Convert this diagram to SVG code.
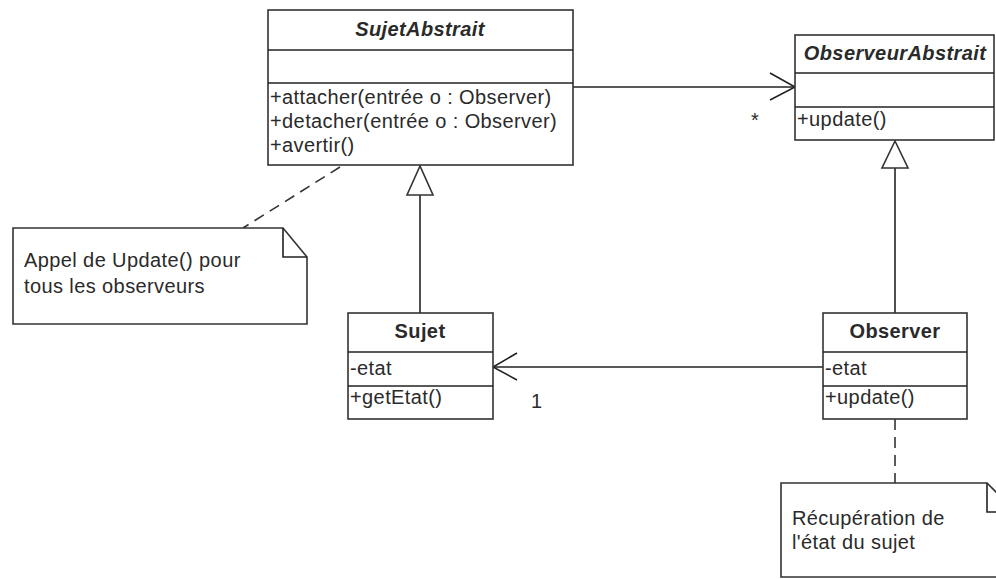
<svg xmlns="http://www.w3.org/2000/svg" width="996" height="579" viewBox="0 0 996 579">
<style>
.box{fill:#fff;stroke:#333;stroke-width:1.6}
.ln{fill:none;stroke:#222;stroke-width:1.6}
.dash{fill:none;stroke:#333;stroke-width:1.6;stroke-dasharray:11 7}
.tri{fill:#fff;stroke:#333;stroke-width:1.6}
text{font-family:"Liberation Sans",Arial,sans-serif;font-size:20px;letter-spacing:0.4px;fill:#2a2a2a}
.t{font-weight:bold;text-anchor:middle}
.ti{font-weight:bold;font-style:italic;text-anchor:middle}
</style>
<rect width="996" height="579" fill="#fff"/>
<g id="connectors">
<line class="ln" x1="573" y1="87" x2="795" y2="87"/>
<polyline class="ln" points="770,73 795,87 770,100"/>
<text x="755" y="127" font-size="14" text-anchor="middle">*</text>
<line class="ln" x1="823" y1="367" x2="493" y2="367"/>
<polyline class="ln" points="517,353 493,367 517,380"/>
<text x="531" y="408">1</text>
<line class="ln" x1="420" y1="313" x2="420" y2="195"/>
<polygon class="tri" points="420,166 407,195 433,195"/>
<line class="ln" x1="895" y1="313" x2="895" y2="168"/>
<polygon class="tri" points="895,141 882,168 908,168"/>
<line class="dash" x1="340" y1="167" x2="243" y2="228"/>
<line class="dash" x1="895" y1="419" x2="895" y2="483"/>
</g>
<g id="SujetAbstrait">
<rect class="box" x="268" y="10" width="305" height="155"/>
<line class="ln" x1="268" y1="50" x2="573" y2="50"/>
<line class="ln" x1="268" y1="83" x2="573" y2="83"/>
<text class="ti" x="420" y="36">SujetAbstrait</text>
<text x="270" y="104">+attacher(entrée o : Observer)</text>
<text x="270" y="128">+detacher(entrée o : Observer)</text>
<text x="270" y="152">+avertir()</text>
</g>
<g id="ObserveurAbstrait">
<rect class="box" x="795" y="35" width="199" height="105"/>
<line class="ln" x1="795" y1="73" x2="994" y2="73"/>
<line class="ln" x1="795" y1="107" x2="994" y2="107"/>
<text class="ti" x="895" y="60">ObserveurAbstrait</text>
<text x="797" y="126">+update()</text>
</g>
<g id="Sujet">
<rect class="box" x="348" y="313" width="145" height="106"/>
<line class="ln" x1="348" y1="352" x2="493" y2="352"/>
<line class="ln" x1="348" y1="386" x2="493" y2="386"/>
<text class="t" x="420" y="338">Sujet</text>
<text x="350" y="375">-etat</text>
<text x="350" y="404">+getEtat()</text>
</g>
<g id="Observer">
<rect class="box" x="823" y="313" width="144" height="106"/>
<line class="ln" x1="823" y1="352" x2="967" y2="352"/>
<line class="ln" x1="823" y1="386" x2="967" y2="386"/>
<text class="t" x="895" y="338">Observer</text>
<text x="825" y="375">-etat</text>
<text x="825" y="404">+update()</text>
</g>
<g id="note1">
<path class="box" d="M13,228 H283 L307,257 V324 H13 Z"/>
<path class="ln" d="M283,228 V257 H307"/>
<text x="24" y="267">Appel de Update() pour</text>
<text x="24" y="293">tous les observeurs</text>
</g>
<g id="note2">
<path class="box" d="M781,483 H987 L1016,512 V577 H781 Z"/>
<path class="ln" d="M987,483 V512 H1016"/>
<text x="792" y="525">Récupération de</text>
<text x="792" y="549">l'état du sujet</text>
</g>
</svg>
